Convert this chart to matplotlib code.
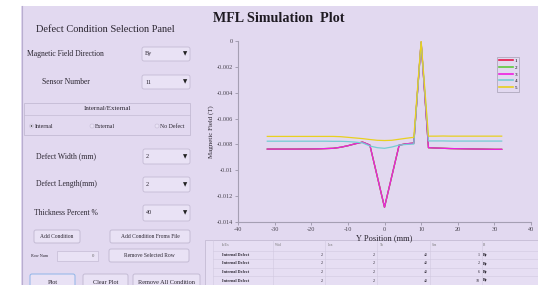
import matplotlib
matplotlib.use("Agg")
import matplotlib.pyplot as plt
from matplotlib.patches import Rectangle, FancyBboxPatch

plt.rcParams['font.family'] = ['Liberation Serif', 'DejaVu Sans']

# ---- chart data ----
y_position = list(range(-32, 33, 2))

field_1 = [-0.00836, -0.00836, -0.00836, -0.00836, -0.00836, -0.00835, -0.00835, -0.00834,
           -0.00832, -0.00830, -0.00822, -0.00810, -0.00795, -0.00782, -0.00805, -0.01045,
           -0.01286, -0.01045, -0.00805, -0.00795, -0.00790, -0.00010, -0.00825, -0.00828,
           -0.00830, -0.00832, -0.00833, -0.00834, -0.00835, -0.00836, -0.00837, -0.00838,
           -0.00838]
field_2 = list(field_1)
field_3 = list(field_1)
field_4 = [-0.00775, -0.00775, -0.00775, -0.00775, -0.00775, -0.00775, -0.00775, -0.00775,
           -0.00775, -0.00776, -0.00776, -0.00778, -0.00782, -0.00788, -0.00812, -0.00825,
           -0.00830, -0.00820, -0.00805, -0.00800, -0.00797, -0.00010, -0.00773, -0.00773,
           -0.00773, -0.00774, -0.00774, -0.00774, -0.00774, -0.00774, -0.00774, -0.00774,
           -0.00774]
field_5 = [-0.00738, -0.00738, -0.00738, -0.00738, -0.00738, -0.00738, -0.00738, -0.00738,
           -0.00738, -0.00738, -0.00740, -0.00745, -0.00750, -0.00755, -0.00762, -0.00768,
           -0.00770, -0.00768, -0.00760, -0.00752, -0.00745, 0.0, -0.00736, -0.00736,
           -0.00735, -0.00736, -0.00736, -0.00736, -0.00736, -0.00736, -0.00736, -0.00736,
           -0.00736]

series = [field_1, field_2, field_3, field_4, field_5]
series_labels = ["1", "2", "3", "4", "5"]
series_colors = ["#e8174a", "#5fc83a", "#f01ee0", "#74cdd2", "#e8d020"]

x_ticks = [-40, -30, -20, -10, 0, 10, 20, 30, 40]
y_ticks = [0, -0.002, -0.004, -0.006, -0.008, -0.01, -0.012, -0.014]
y_tick_labels = ["0", "-0.002", "-0.004", "-0.006", "-0.008", "-0.01", "-0.012", "-0.014"]

# ---- table data ----
table_headers = ["In/Ex", "Wid", "Len", "Th", "Sen", "B"]
table_in_ex = ["Internal Defect", "Internal Defect", "Internal Defect", "Internal Defect"]
table_width = ["2", "2", "2", "2"]
table_length = ["2", "2", "2", "2"]
table_thick = ["40", "40", "40", "40"]
table_sensor = ["1", "2", "6", "10"]
table_dir = ["By", "By", "By", "By"]

BG = "#e2d9f0"
BOX = "#e9e2f5"
EDGE = "#c4bbd4"
TXT = "#2a2530"

fig = plt.figure(figsize=(5.38, 2.85), dpi=100, facecolor=BG)

# gui layer in pixel coordinates
gui = fig.add_axes([0, 0, 1, 1])
gui.set_xlim(0, 538)
gui.set_ylim(285, 0)
gui.axis("off")

gui.add_patch(Rectangle((0, 0), 21, 285, facecolor="white", edgecolor="none"))
gui.add_patch(Rectangle((0, 0), 538, 6, facecolor="white", edgecolor="none"))
gui.plot([21.5, 21.5], [6, 285], color="#b9aed0", lw=0.8)
gui.plot([537.5, 537.5], [6, 12], color="#777777", lw=0.5)


def label(x, y, text, size=5.5, ha="left", weight="normal", color=TXT):
    gui.text(x, y, text, fontsize=size, ha=ha, va="center", weight=weight, color=color)


def combo(x0, y0, x1, y1, value):
    gui.add_patch(FancyBboxPatch((x0, y0), x1 - x0, y1 - y0, boxstyle="round,pad=0,rounding_size=2",
                                 facecolor=BOX, edgecolor=EDGE, lw=0.6))
    label(x0 + 3, (y0 + y1) / 2, value, size=4.5)
    gui.text(x1 - 5, (y0 + y1) / 2, "\u25bc", fontsize=4, ha="center", va="center",
             color="#222222", family="DejaVu Sans")


def button(x0, y0, x1, y1, text, edge=EDGE, size=4.5):
    gui.add_patch(FancyBboxPatch((x0, y0), x1 - x0, y1 - y0, boxstyle="round,pad=0,rounding_size=2",
                                 facecolor=BOX, edgecolor=edge, lw=0.7))
    label((x0 + x1) / 2, (y0 + y1) / 2, text, size=size, ha="center")


label(105, 29, "Defect Condition Selection Panel", size=7.5, ha="center")
label(27, 54, "Magnetic Field Direction", size=5.5)
combo(142, 47, 190, 61, "By")
label(42, 82, "Sensor Number", size=5.5)
combo(142, 75, 190, 89, "11")

gui.add_patch(Rectangle((24, 103), 166, 32, facecolor="none", edgecolor=EDGE, lw=0.6))
gui.plot([24, 190], [115, 115], color=EDGE, lw=0.5)
label(107, 109, "Internal/External", size=5, ha="center")
gui.add_patch(plt.Circle((31.5, 126), 2, facecolor=BOX, edgecolor=EDGE, lw=0.4))
gui.add_patch(plt.Circle((31.5, 126), 0.8, facecolor="#333333", edgecolor="none"))
label(35, 126, "Internal", size=4.2)
gui.add_patch(plt.Circle((92, 126), 2, facecolor=BOX, edgecolor=EDGE, lw=0.4))
label(95, 126, "External", size=4.2)
gui.add_patch(plt.Circle((157, 126), 2, facecolor=BOX, edgecolor=EDGE, lw=0.4))
label(160, 126, "No Defect", size=4.2)

label(36, 156, "Defect Width (mm)", size=5.5)
combo(143, 149, 190, 164, "2")
label(36, 184, "Defect Length(mm)", size=5.5)
combo(143, 177, 190, 192, "2")
label(34, 213, "Thickness Percent %", size=5.5)
combo(143, 205, 190, 221, "40")

button(34, 230, 80, 243, "Add Condition", size=4)
button(110, 230, 190, 243, "Add Condition Froms File", size=4)
label(31, 256, "Row Num", size=3)
gui.add_patch(Rectangle((57, 251), 41, 10, facecolor=BOX, edgecolor=EDGE, lw=0.5))
label(94, 256, "0", size=3.5, ha="right", color="#666666")
button(109, 249, 189, 262, "Remove Selected Row", size=4)
button(30, 274, 75, 290, "Plot", edge="#8fb4e8", size=4.5)
button(83, 274, 128, 290, "Clear Plot", size=4.5)
button(133, 274, 200, 290, "Remove All Condition", size=4.5)

gui.text(213, 19, "MFL Simulation  Plot", fontsize=10.2, weight="bold", ha="left", va="center", color="#1e1a22")

# table
gui.add_patch(Rectangle((205, 240), 333, 46, facecolor="#e6def3", edgecolor=EDGE, lw=0.6))
col_lines = [213, 273, 325, 377, 430, 482]
for cx in col_lines:
    gui.plot([cx, cx], [240, 285], color="#d2c9e0", lw=0.4)
row_lines = [250.5, 259, 267.5, 276]
for ry in row_lines:
    gui.plot([213, 538], [ry, ry], color="#d2c9e0", lw=0.4)
header_x = [222, 275, 328, 380, 432, 483]
for hx, h in zip(header_x, table_headers):
    label(hx, 245.5, h, size=2.5, color="#777777")
row_y = [255, 263.5, 272, 280.5]
for i, ry in enumerate(row_y):
    label(222, ry, table_in_ex[i], size=3, weight="bold")
    label(323, ry, table_width[i], size=3, ha="right")
    label(375, ry, table_length[i], size=3, ha="right")
    label(428, ry, table_thick[i], size=3, ha="right")
    label(480, ry, table_sensor[i], size=3, ha="right")
    label(483, ry, table_dir[i], size=3, weight="bold")

# plot
ax = fig.add_axes([238 / 538, 63 / 285, 293 / 538, 181 / 285])
ax.set_facecolor("none")
for vals, name, col in zip(series, series_labels, series_colors):
    ax.plot(y_position, vals, color=col, lw=0.9, label=name)

ax.set_xlim(-40, 40)
ax.set_ylim(-0.014, 0)
ax.set_xticks(x_ticks)
ax.set_xticklabels([str(t) for t in x_ticks])
ax.set_yticks(y_ticks)
ax.set_yticklabels(y_tick_labels)
ax.tick_params(labelsize=4.5, colors="#9a94a8", labelcolor="#4a4550", length=2, width=0.6, pad=1.5)
for s in ["top", "right"]:
    ax.spines[s].set_visible(False)
for s in ["left", "bottom"]:
    ax.spines[s].set_color("#a59fb3")
    ax.spines[s].set_linewidth(0.8)
ax.set_xlabel("Y Position (mm)", fontsize=6, color=TXT, labelpad=2)
ax.set_ylabel("Magnetic Field (T)", fontsize=5, color=TXT, labelpad=2)

leg = ax.legend(loc="upper right", bbox_to_anchor=(0.969, 0.928), fontsize=3.7, frameon=True,
                fancybox=False, edgecolor="#a59fb3", facecolor=BG, framealpha=1,
                handlelength=2.6, handletextpad=0.4, labelspacing=0.4, borderpad=0.4)
leg.get_frame().set_linewidth(0.5)
for line in leg.get_lines():
    line.set_linewidth(1.2)

fig.savefig("out.png", dpi=100, facecolor=BG)
